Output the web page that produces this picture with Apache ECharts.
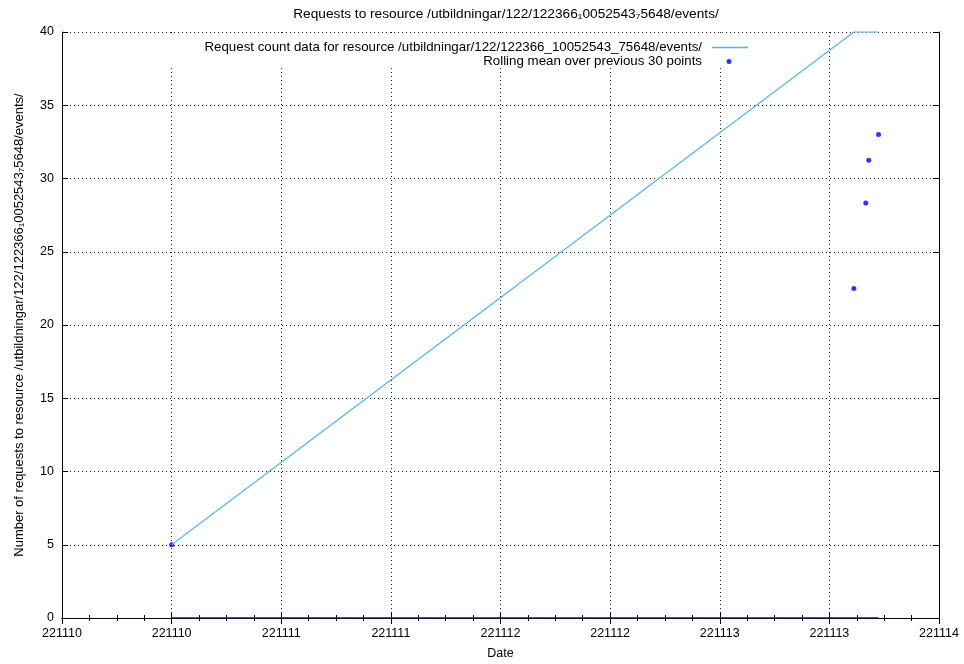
<!DOCTYPE html>
<html>
<head>
<meta charset="utf-8">
<script src="https://cdn.jsdelivr.net/npm/echarts@6/dist/echarts.min.js"></script>
<style>html,body{margin:0;padding:0;background:#fff}#c{width:964px;height:664px}</style>
</head>
<body>
<div id="c"></div>
<script>
// ---- data (times in UTC) ----
var times = ['2022-11-10T12:00:00Z', '2022-11-13T14:41:00Z', '2022-11-13T15:59:00Z', '2022-11-13T16:19:00Z', '2022-11-13T17:23:00Z'];
var requestCounts = [5, 40, 40, 40, 40];
var rollingMean = [5, 22.5, 28.33, 31.25, 33];
var baseline = [0, 0, 0, 0, 0];
var xStart = '2022-11-10T00:00:00Z';
var xEnd = '2022-11-14T00:00:00Z';
var yTicks = [0, 5, 10, 15, 20, 25, 30, 35, 40];
var titleText = 'Requests to resource /utbildningar/122/122366\u20810052543\u20875648/events/';
var yName = 'Number of requests to resource /utbildningar/122/122366\u20810052543\u20875648/events/';
var xName = 'Date';
var seriesNames = ['Request count data for resource /utbildningar/122/122366_10052543_75648/events/', 'Rolling mean over previous 30 points'];

var FONT = 'Liberation Sans, Arial, sans-serif';
var HALF_DAY = 43200000;
function ts(s) { return new Date(s).getTime(); }
function pairs(vals) { return times.map(function (t, i) { return [ts(t), vals[i]]; }); }
function fmt(v) {
  var d = new Date(v);
  var yy = String(d.getUTCFullYear() % 100).padStart(2, '0');
  var mm = String(d.getUTCMonth() + 1).padStart(2, '0');
  var dd = String(d.getUTCDate()).padStart(2, '0');
  return yy + mm + dd;
}

var chart = echarts.init(document.getElementById('c'), null, { renderer: 'canvas' });
var xCommon = {
  type: 'value', min: ts(xStart), max: ts(xEnd), interval: HALF_DAY,
  axisLine: { show: true, lineStyle: { color: '#000', width: 1 } },
  axisTick: { show: true, inside: true, length: 6, lineStyle: { color: '#000' } },
  minorTick: { show: true, splitNumber: 4, length: 3, lineStyle: { color: '#000' } }
};
var yCommon = {
  type: 'value', min: yTicks[0], max: yTicks[yTicks.length - 1], interval: 5,
  axisLine: { show: true, lineStyle: { color: '#000', width: 1 } },
  axisTick: { show: true, inside: true, length: 6, lineStyle: { color: '#000' } }
};
var LINE_ICON = 'path://M0,0L0,0ZM5,0H41V1.4H5Z';
var DOT_ICON = 'path://M0,0L0,0ZM41,5L41,5ZM22,0A2.5,2.5 0 1 1 22,5A2.5,2.5 0 1 1 22,0Z';
var option = {
  animation: false,
  backgroundColor: '#fff',
  textStyle: { fontFamily: FONT },
  title: {
    text: titleText, left: 501, top: 2, textAlign: 'center',
    textStyle: { fontSize: 13.7, fontWeight: 'normal', color: '#000', fontFamily: FONT }
  },
  grid: { left: 62, right: 25, top: 32, bottom: 46, containLabel: false, outerBoundsMode: 'none' },
  legend: [
    {
      data: [{ name: seriesNames[0], icon: LINE_ICON, itemStyle: { color: '#56b4e9', borderWidth: 0, opacity: 1 } }],
      orient: 'vertical', align: 'right', right: 216, top: 41,
      padding: 0, itemWidth: 41, itemHeight: 10, itemGap: 0,
      textStyle: { fontSize: 13.3, color: '#000', fontFamily: FONT }
    },
    {
      data: [{ name: seriesNames[1], icon: DOT_ICON, itemStyle: { color: '#0000ff', borderWidth: 0 } }],
      orient: 'vertical', align: 'right', right: 216, top: 55,
      padding: 0, itemWidth: 41, itemHeight: 5, itemGap: 0,
      textStyle: { fontSize: 13.3, color: '#000', fontFamily: FONT }
    }
  ],
  graphic: [{
    type: 'rect', z: 1, silent: true,
    shape: { x: 63, y: 33, width: 697, height: 35 },
    style: { fill: '#fff' }
  }],
  xAxis: [
    Object.assign({}, xCommon, {
      position: 'bottom', name: xName, nameLocation: 'middle', nameGap: 29,
      nameTextStyle: { fontSize: 12.5, color: '#000', fontFamily: FONT },
      axisLabel: { show: true, formatter: fmt, fontSize: 12.5, color: '#000', margin: 9, fontFamily: FONT, showMinLabel: true, showMaxLabel: true },
      splitLine: { show: true, lineStyle: { color: '#222', type: [1, 3], width: 1 } }
    }),
    Object.assign({}, xCommon, {
      position: 'top', z: 3, axisLabel: { show: false }, splitLine: { show: false }
    })
  ],
  yAxis: [
    Object.assign({}, yCommon, {
      position: 'left', name: yName, nameLocation: 'middle', nameGap: 36, nameRotate: 90,
      nameTextStyle: { fontSize: 13, color: '#000', fontFamily: FONT },
      axisLabel: { show: true, fontSize: 12.5, color: '#000', margin: 8, fontFamily: FONT },
      splitLine: { show: true, lineStyle: { color: '#222', type: [1, 3], width: 1 } }
    }),
    Object.assign({}, yCommon, {
      position: 'right', z: 3, axisLabel: { show: false }, splitLine: { show: false }
    })
  ],
  series: [
    {
      name: 'baseline', type: 'line', data: pairs(baseline), symbol: 'none', z: 4,
      lineStyle: { color: '#3a0a48', width: 1.5 }, itemStyle: { color: '#3a0a48' }, silent: true
    },
    {
      name: seriesNames[0], type: 'line', data: pairs(requestCounts), symbol: 'none', clip: false,
      lineStyle: { color: '#56b4e9', width: 1.2 }, itemStyle: { color: '#56b4e9' }
    },
    {
      name: seriesNames[1], type: 'scatter', data: pairs(rollingMean), symbol: 'circle', symbolSize: 5,
      itemStyle: { color: '#0000ff' }
    }
  ]
};
chart.setOption(option);
</script>
</body>
</html>
